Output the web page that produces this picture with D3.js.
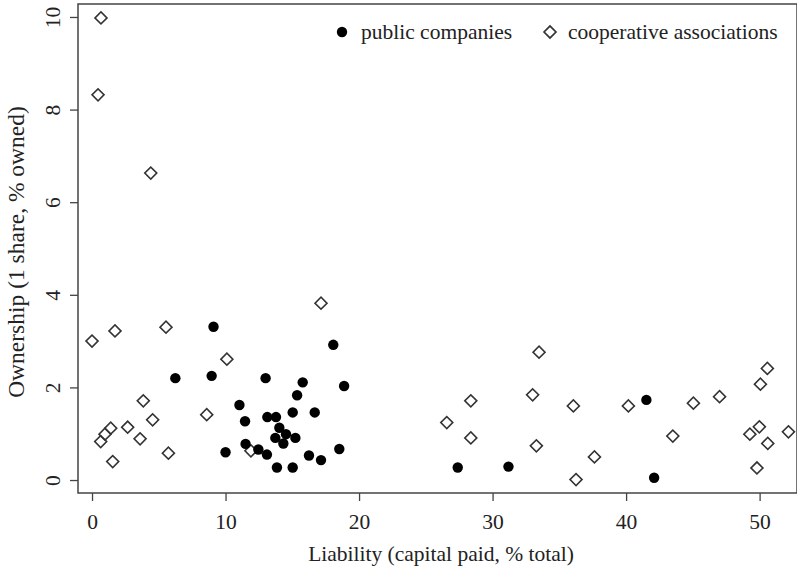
<!DOCTYPE html>
<html>
<head>
<meta charset="utf-8">
<script src="https://cdn.jsdelivr.net/npm/d3@7"></script>
<style>
  body { margin: 0; background: #fff; }
  text { font-family: "Liberation Serif", "DejaVu Serif", serif; fill: #222; }
</style>
</head>
<body>
<script>
// public companies (filled dots)
var pubX = [6.24, 8.96, 9.1, 10.0, 11.04, 11.46, 11.5, 12.46, 13.0, 13.13, 13.78, 13.1, 13.85, 13.73,
            14.03, 14.33, 14.53, 15.03, 15.23, 15.36, 15.78, 15.03, 16.25, 16.68, 17.15, 18.07, 18.52, 18.88,
            27.39, 31.19, 41.52, 42.1];
var pubY = [2.20, 2.25, 3.31, 0.60, 1.62, 1.27, 0.78, 0.66, 2.20, 1.36, 1.36, 0.55, 0.27, 0.91,
            1.13, 0.79, 0.99, 1.46, 0.91, 1.83, 2.11, 0.27, 0.53, 1.46, 0.43, 2.92, 0.67, 2.03,
            0.27, 0.29, 1.73, 0.05];

// cooperative associations (open diamonds)
var coopX = [0.67, 0.45, 4.4, 0.0, 1.72, 5.54, 10.1, 3.84, 4.54, 2.67, 1.4, 0.97, 0.65, 3.6, 1.55, 5.72, 8.59, 11.9,
             17.15, 33.48, 28.37, 33.0, 36.05, 26.57, 28.37, 33.28, 37.63, 36.25,
             40.17, 43.5, 45.04, 47.0, 50.58, 50.06, 49.98, 49.27, 50.61, 52.16, 49.8];
var coopY = [9.98, 8.32, 6.63, 3.0, 3.22, 3.30, 2.61, 1.71, 1.30, 1.14, 1.12, 0.99, 0.83, 0.89, 0.40, 0.58, 1.41, 0.63,
             3.82, 2.76, 1.71, 1.84, 1.60, 1.24, 0.91, 0.74, 0.50, 0.01,
             1.60, 0.95, 1.66, 1.80, 2.41, 2.07, 1.15, 0.99, 0.79, 1.04, 0.26];

var xTicks = [0, 10, 20, 30, 40, 50];
var yTicks = [0, 2, 4, 6, 8, 10];

var width = 797, height = 569;
var margin = {top: 4, right: 0, bottom: 76, left: 78};
var w = width - margin.left - margin.right,
    h = height - margin.top - margin.bottom;
var fs = "21.5px";

var svg = d3.select("body").append("svg")
    .attr("width", width)
    .attr("height", height);

var g = svg.append("g")
    .attr("transform", "translate(" + margin.left + "," + margin.top + ")");

var x = d3.scaleLinear().domain([-1.05, 52.8]).range([0, w]);
var y = d3.scaleLinear().domain([-0.28, 10.28]).range([h, 0]);

// axes
var xAxis = g.append("g")
    .attr("transform", "translate(0," + h + ")")
    .call(d3.axisBottom(x).tickValues(xTicks).tickSize(8).tickPadding(13));
var yAxis = g.append("g")
    .call(d3.axisLeft(y).tickValues(yTicks).tickSize(8).tickPadding(6));

[xAxis, yAxis].forEach(function(a) {
  a.select(".domain").remove();
  a.selectAll("line").attr("stroke", "#444").attr("stroke-width", 1.3);
  a.selectAll("text").style("font-size", fs).attr("fill", "#222");
});
xAxis.selectAll("text").attr("dy", "0.71em");
// R style: y labels rotated, parallel to the axis
yAxis.selectAll("text")
    .attr("text-anchor", "middle")
    .attr("x", 0)
    .attr("dy", 0)
    .attr("transform", "translate(-18,0) rotate(-90)");

// frame
g.append("rect")
    .attr("x", 0).attr("y", 0)
    .attr("width", w).attr("height", h)
    .attr("fill", "none")
    .attr("stroke", "#444")
    .attr("stroke-width", 1.5);

// points
var diamond = d3.symbol().type(d3.symbolSquare).size(72);

g.selectAll(".coop")
    .data(coopX)
    .enter().append("path")
    .attr("class", "coop")
    .attr("d", diamond)
    .attr("transform", function(d, i) { return "translate(" + x(d) + "," + y(coopY[i]) + ") rotate(45)"; })
    .attr("fill", "none")
    .attr("stroke", "#333")
    .attr("stroke-width", 1.6);

g.selectAll(".pub")
    .data(pubX)
    .enter().append("circle")
    .attr("class", "pub")
    .attr("cx", function(d) { return x(d); })
    .attr("cy", function(d, i) { return y(pubY[i]); })
    .attr("r", 5.2)
    .attr("fill", "#000");

// axis titles
svg.append("text")
    .attr("x", 441)
    .attr("y", 561)
    .attr("text-anchor", "middle")
    .style("font-size", fs)
    .text("Liability (capital paid, % total)");

svg.append("text")
    .attr("transform", "translate(24,252) rotate(-90)")
    .attr("text-anchor", "middle")
    .style("font-size", "23.5px")
    .text("Ownership (1 share, % owned)");

// legend
var leg = svg.append("g");
leg.append("circle").attr("cx", 342).attr("cy", 32).attr("r", 5.2).attr("fill", "#000");
leg.append("text").attr("x", 361).attr("y", 39).style("font-size", fs).text("public companies");
leg.append("path")
    .attr("d", diamond)
    .attr("transform", "translate(550,32) rotate(45)")
    .attr("fill", "none").attr("stroke", "#333").attr("stroke-width", 1.6);
leg.append("text").attr("x", 568).attr("y", 39).style("font-size", fs).text("cooperative associations");
</script>
</body>
</html>
